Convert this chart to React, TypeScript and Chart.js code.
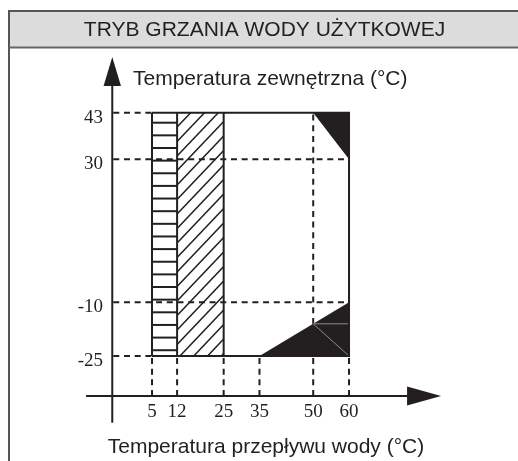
import React, { useEffect, useRef } from "react";
import { Chart, registerables } from "chart.js";

Chart.register(...registerables);

const TITLE = "TRYB GRZANIA WODY UŻYTKOWEJ";
const Y_LABEL = "Temperatura zewnętrzna (°C)";
const X_LABEL = "Temperatura przepływu wody (°C)";

// tick values and labels
const xTicks = [5, 12, 25, 35, 50, 60];
const xTickLabels = ["5", "12", "25", "35", "50", "60"];
const yTicks = [43, 30, -10, -25];
const yTickLabels = ["43", "30", "-10", "-25"];

// operating zone
const zoneTop = 43;
const zoneBottom = -25;
const horizontalHatchX = [5, 12];
const diagonalHatchX = [12, 25];
const solidVerticals = [5, 12, 25];
const outlinePoints = [
  [5, 43],
  [60, 43],
  [60, -25],
  [5, -25],
];
const topTriangle = [
  [50, 43],
  [60, 43],
  [60, 30],
];
const bottomTriangle = [
  [35, -25],
  [60, -10],
  [60, -25],
];
const innerSegments = [
  [
    [50, -16],
    [60, -16],
  ],
  [
    [50, -16],
    [60, -25],
  ],
];
// [y, x where the dashed guide ends]
const dashedHorizontals = [
  [43, 5],
  [30, 60],
  [-10, 60],
  [-25, 5],
];
// [x, y where the upper dashed guide ends]
const dashedVerticalsUpper = [[50, 43]];

// where the drawn axes cross, and how far they run (in data units)
const axisCross = [-6.1, -36.2];
const xAxisRun = [-13.4, 85.7];
const yAxisRun = [-43.7, 58.6];

const INK = "#231f20";

const diagramPlugin = {
  id: "diagram",
  beforeDraw(chart: any) {
    const { ctx, width, height } = chart;
    ctx.save();
    ctx.fillStyle = "#ffffff";
    ctx.fillRect(0, 0, width, height);
    ctx.fillStyle = "#dcdcdc";
    ctx.fillRect(9, 11, width - 9, 36);
    ctx.strokeStyle = "#555555";
    ctx.lineWidth = 2;
    ctx.beginPath();
    ctx.moveTo(9, height);
    ctx.lineTo(9, 11);
    ctx.lineTo(width, 11);
    ctx.stroke();
    ctx.strokeStyle = "#666666";
    ctx.beginPath();
    ctx.moveTo(9, 47.5);
    ctx.lineTo(width, 47.5);
    ctx.stroke();
    ctx.fillStyle = INK;
    ctx.font = '21px "Liberation Sans", Arial, sans-serif';
    ctx.textAlign = "center";
    ctx.textBaseline = "alphabetic";
    ctx.fillText(TITLE, 264.5, 36);
    ctx.restore();
  },
  afterDraw(chart: any) {
    const { ctx } = chart;
    const xs = chart.scales.x;
    const ys = chart.scales.y;
    const X = (v: number) => xs.getPixelForValue(v);
    const Y = (v: number) => ys.getPixelForValue(v);
    const line = (x1: number, y1: number, x2: number, y2: number) => {
      ctx.beginPath();
      ctx.moveTo(x1, y1);
      ctx.lineTo(x2, y2);
      ctx.stroke();
    };
    ctx.save();
    ctx.strokeStyle = INK;
    ctx.fillStyle = INK;
    ctx.lineCap = "butt";

    // dashed guides
    ctx.lineWidth = 2;
    ctx.setLineDash([6, 4.7]);
    for (const [yv, xe] of dashedHorizontals) {
      ctx.lineDashOffset = 0;
      line(X(axisCross[0]) + 1, Y(yv), X(xe), Y(yv));
    }
    for (const xv of xTicks) {
      line(X(xv), Y(axisCross[1]), X(xv), Y(zoneBottom));
    }
    for (const [xv, ye] of dashedVerticalsUpper) {
      line(X(xv), Y(zoneBottom), X(xv), Y(ye));
    }
    ctx.setLineDash([]);

    // horizontal hatch
    {
      const L = X(horizontalHatchX[0]);
      const R = X(horizontalHatchX[1]);
      const T = Y(zoneTop);
      const B = Y(zoneBottom);
      ctx.lineWidth = 2;
      for (let y = T + 9.9; y < B - 3; y += 12.64) {
        line(L, y, R, y);
      }
    }

    // diagonal hatch
    {
      const L = X(diagonalHatchX[0]);
      const R = X(diagonalHatchX[1]);
      const T = Y(zoneTop);
      const B = Y(zoneBottom);
      const s = 1.05;
      const gap = 14.5;
      ctx.save();
      ctx.beginPath();
      ctx.rect(L, T, R - L, B - T);
      ctx.clip();
      ctx.lineWidth = 1.5;
      let c = 127;
      while (c > T) c -= gap;
      for (; c < B + s * (R - L) + gap; c += gap) {
        line(L, c, R, c - s * (R - L));
      }
      ctx.restore();
    }

    // black triangles
    for (const tri of [topTriangle, bottomTriangle]) {
      ctx.beginPath();
      tri.forEach(([xv, yv], i) => (i === 0 ? ctx.moveTo(X(xv), Y(yv)) : ctx.lineTo(X(xv), Y(yv))));
      ctx.closePath();
      ctx.fill();
    }
    ctx.strokeStyle = "#8a8a8a";
    ctx.lineWidth = 1;
    for (const [[x1, y1], [x2, y2]] of innerSegments) {
      line(X(x1), Y(y1), X(x2), Y(y2));
    }
    ctx.strokeStyle = INK;

    // outline
    ctx.lineWidth = 2;
    ctx.beginPath();
    outlinePoints.forEach(([xv, yv], i) => (i === 0 ? ctx.moveTo(X(xv), Y(yv)) : ctx.lineTo(X(xv), Y(yv))));
    ctx.stroke();
    for (const xv of solidVerticals) {
      line(X(xv), Y(zoneTop), X(xv), Y(zoneBottom));
    }

    // axes with arrows
    const ax = X(axisCross[0]);
    const ay = Y(axisCross[1]);
    ctx.lineWidth = 2;
    const yTip = Y(yAxisRun[1]);
    line(ax, Y(yAxisRun[0]), ax, yTip + 10);
    ctx.beginPath();
    ctx.moveTo(ax, yTip);
    ctx.lineTo(ax - 8.7, yTip + 29);
    ctx.lineTo(ax + 8.7, yTip + 29);
    ctx.closePath();
    ctx.fill();
    const xTip = X(xAxisRun[1]);
    line(X(xAxisRun[0]), ay, xTip - 10, ay);
    ctx.beginPath();
    ctx.moveTo(xTip, ay);
    ctx.lineTo(xTip - 34, ay - 9.5);
    ctx.lineTo(xTip - 34, ay + 9.5);
    ctx.closePath();
    ctx.fill();

    // tick labels
    ctx.font = '19px "Liberation Serif", "Times New Roman", serif';
    ctx.textBaseline = "alphabetic";
    ctx.textAlign = "right";
    yTicks.forEach((v, i) => ctx.fillText(yTickLabels[i], 103, Y(v) + 10));
    ctx.textAlign = "center";
    xTicks.forEach((v, i) => ctx.fillText(xTickLabels[i], X(v), 417));

    // axis titles
    ctx.font = '21px "Liberation Sans", Arial, sans-serif';
    ctx.textAlign = "left";
    ctx.fillText(Y_LABEL, 133, 85);
    ctx.textAlign = "center";
    ctx.fillText(X_LABEL, 266, 453);
    ctx.restore();
  },
};

export default function App() {
  const ref = useRef<HTMLCanvasElement | null>(null);
  useEffect(() => {
    if (!ref.current) return;
    const chart = new Chart(ref.current, {
      type: "scatter",
      data: { datasets: [] },
      options: {
        responsive: false,
        animation: false,
        devicePixelRatio: 1,
        layout: { padding: { left: 98.3, right: 25.7, top: 87.77, bottom: 51.36 } },
        scales: {
          x: { type: "linear", min: -10, max: 100, display: false },
          y: { type: "linear", min: -40, max: 50, display: false },
        },
        plugins: { legend: { display: false }, tooltip: { enabled: false }, title: { display: false } },
      },
      plugins: [diagramPlugin],
    });
    return () => chart.destroy();
  }, []);
  return (
    <div style={{ position: "absolute", left: 0, top: 0, width: 518, height: 461 }}>
      <canvas ref={ref} width={518} height={461} style={{ display: "block", width: 518, height: 461 }} />
    </div>
  );
}
